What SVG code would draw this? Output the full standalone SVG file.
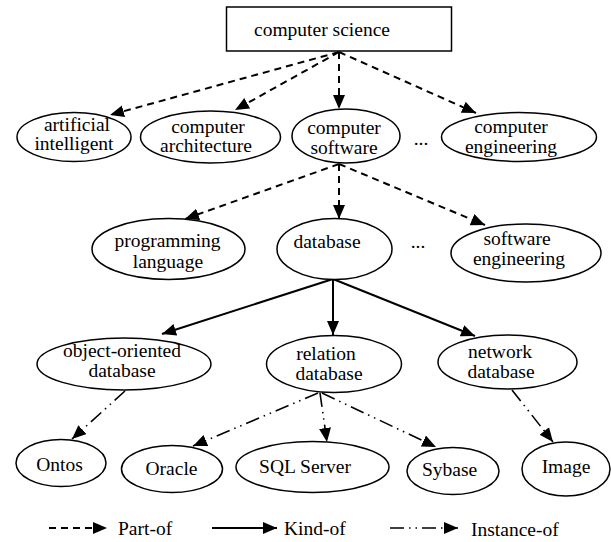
<svg xmlns="http://www.w3.org/2000/svg" width="611" height="542" viewBox="0 0 611 542">
<defs>
<marker id="ah" markerUnits="userSpaceOnUse" markerWidth="15" markerHeight="13" refX="14" refY="6" orient="auto">
<path d="M0,0 L14,6 L0,12 z" fill="#000"/>
</marker>
<style>
.n{fill:#fff;stroke:#000;stroke-width:1.5}
.t{font-family:"Liberation Serif","Times New Roman",serif;font-size:19.5px;fill:#000;text-anchor:middle}
.tl{font-family:"Liberation Serif","Times New Roman",serif;font-size:19.5px;fill:#000}
.part{fill:none;stroke:#000;stroke-width:2;stroke-dasharray:7,5;marker-end:url(#ah)}
.kind{fill:none;stroke:#000;stroke-width:2;marker-end:url(#ah)}
.inst{fill:none;stroke:#000;stroke-width:1.6;stroke-dasharray:14,5,1.5,5,1.5,5;marker-end:url(#ah)}
</style>
</defs>
<rect width="611" height="542" fill="#fff"/>
<g id="connectors">
<line class="part" x1="339" y1="52" x2="110" y2="115"/>
<line class="part" x1="339" y1="52" x2="235" y2="110"/>
<line class="part" x1="339" y1="52" x2="339" y2="109"/>
<line class="part" x1="339" y1="52" x2="476" y2="113"/>
<line class="part" x1="339" y1="164" x2="185" y2="219"/>
<line class="part" x1="339" y1="164" x2="339" y2="219"/>
<line class="part" x1="339" y1="164" x2="485" y2="225"/>
<line class="kind" x1="333" y1="279" x2="162" y2="334"/>
<line class="kind" x1="333" y1="279" x2="333" y2="335"/>
<line class="kind" x1="333" y1="279" x2="475" y2="336"/>
<line class="inst" x1="125" y1="391" x2="72" y2="439"/>
<line class="inst" x1="318" y1="393" x2="193" y2="446"/>
<line class="inst" x1="320" y1="393" x2="327" y2="442"/>
<line class="inst" x1="322" y1="393" x2="436" y2="447"/>
<line class="inst" x1="512" y1="390" x2="553" y2="442"/>
</g>
<g id="cs"><rect class="n" x="226.5" y="7" width="225" height="44"/><text class="t" x="322" y="36">computer science</text></g>
<g id="ai"><ellipse class="n" cx="74" cy="137" rx="57" ry="24.5"/><text class="t" x="77" y="131">artificial</text><text class="t" x="74" y="150">intelligent</text></g>
<g id="ca"><ellipse class="n" cx="210.5" cy="137" rx="70" ry="26"/><text class="t" x="208" y="133">computer</text><text class="t" x="206" y="152">architecture</text></g>
<g id="csw"><ellipse class="n" cx="346" cy="136" rx="54" ry="27"/><text class="t" x="344" y="134">computer</text><text class="t" x="344" y="154">software</text></g>
<text id="dots1" class="t" x="421" y="145">...</text>
<g id="ce"><ellipse class="n" cx="519" cy="137" rx="77.5" ry="24.5"/><text class="t" x="511" y="133">computer</text><text class="t" x="511" y="153">engineering</text></g>
<g id="pl"><ellipse class="n" cx="168.5" cy="249" rx="76.5" ry="30.5"/><text class="t" x="167.5" y="247">programming</text><text class="t" x="168" y="268">language</text></g>
<g id="db"><ellipse class="n" cx="334.5" cy="249" rx="57.5" ry="30.5"/><text class="t" x="327" y="248">database</text></g>
<text id="dots2" class="t" x="418" y="248">...</text>
<g id="se"><ellipse class="n" cx="526" cy="253" rx="75" ry="29"/><text class="t" x="517" y="245">software</text><text class="t" x="519" y="265">engineering</text></g>
<g id="ood"><ellipse class="n" cx="124" cy="364" rx="87" ry="26"/><text class="t" x="122" y="357">object-oriented</text><text class="t" x="122" y="377">database</text></g>
<g id="rd"><ellipse class="n" cx="334" cy="364" rx="67.5" ry="28.5"/><text class="t" x="326" y="360">relation</text><text class="t" x="329" y="380">database</text></g>
<g id="nd"><ellipse class="n" cx="507.5" cy="362" rx="69.5" ry="27"/><text class="t" x="500" y="358">network</text><text class="t" x="501" y="378">database</text></g>
<g id="ontos"><ellipse class="n" cx="61" cy="463" rx="45" ry="23.5"/><text class="t" x="59.5" y="471">Ontos</text></g>
<g id="oracle"><ellipse class="n" cx="172" cy="469" rx="50.5" ry="23.5"/><text class="t" x="171.5" y="475">Oracle</text></g>
<g id="sql"><ellipse class="n" cx="312.5" cy="467" rx="76.5" ry="25.5"/><text class="t" x="305" y="473">SQL Server</text></g>
<g id="sybase"><ellipse class="n" cx="453" cy="471" rx="46" ry="23.5"/><text class="t" x="449.5" y="476">Sybase</text></g>
<g id="image"><ellipse class="n" cx="566" cy="469" rx="44" ry="27"/><text class="t" x="566" y="473">Image</text></g>
<g id="legend">
<line class="part" x1="49" y1="528" x2="107" y2="528"/>
<text class="tl" x="118" y="535">Part-of</text>
<line class="kind" x1="212" y1="528" x2="277" y2="528"/>
<text class="tl" x="284" y="535">Kind-of</text>
<line class="inst" x1="390" y1="528" x2="458" y2="528"/>
<text class="tl" x="471" y="536">Instance-of</text>
</g>
</svg>
